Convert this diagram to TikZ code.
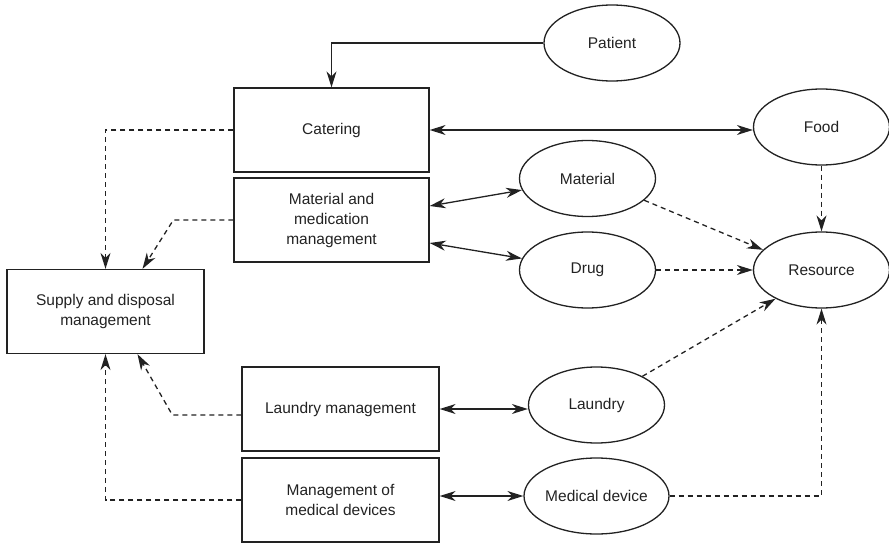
\documentclass[tikz,border=0pt]{standalone}
\usepackage{fontspec}
\setmainfont{Liberation Sans}
\usetikzlibrary{arrows.meta,shapes.geometric,calc}
\definecolor{ink}{HTML}{222222}
\tikzset{
  head/.style={Stealth[length=16pt,width=10pt,inset=5pt]},
  box/.style={draw=ink,line width=1.3pt,rectangle,minimum width=195pt,minimum height=84pt,
    align=center,inner sep=0pt,font=\fontsize{15.5}{20}\selectfont,text=ink},
  oval/.style={draw=ink,line width=1.3pt,ellipse,minimum width=136pt,minimum height=76pt,
    inner sep=0pt,font=\fontsize{15.5}{20}\selectfont,text=ink},
  link/.style={draw=ink,line width=1.3pt,-{Stealth[length=16pt,width=10pt,inset=5pt]}},
  dlink/.style={draw=ink,line width=1.3pt,
    {Stealth[length=16pt,width=10pt,inset=5pt]}-{Stealth[length=16pt,width=10pt,inset=5pt]}},
  flow/.style={draw=ink,line width=1.3pt,dash pattern=on 5pt off 4pt,
    -{Stealth[length=16pt,width=10pt,inset=5pt]}}
}
\begin{document}
\begin{tikzpicture}[x=1pt,y=-1pt]
\useasboundingbox (0,0) rectangle (889,543);

% process boxes
\node[box] (cat) at (331.5,130) {Catering};
\node[box] (mm) at (331.5,220) {Material and\\medication\\management};
\node[box,minimum width=197pt] (sup) at (105.5,311.5) {Supply and disposal\\management};
\node[box,minimum width=197pt] (lm) at (340.5,409) {Laundry management};
\node[box,minimum width=197pt] (md) at (340.5,500) {Management of\\medical devices};

% objects
\node[oval] (pat) at (612,43) {Patient};
\node[oval] (food) at (821.5,127) {Food};
\node[oval] (mat) at (587.5,178.5) {Material};
\node[oval] (drug) at (587.5,270) {Drug};
\node[oval] (res) at (821.5,270) {Resource};
\node[oval] (lau) at (596.5,405) {Laundry};
\node[oval] (med) at (596.5,496) {Medical device};

% solid links
\draw[link] (pat.west) -| (cat.north);
\draw[dlink] (cat.east) -- (cat.east -| food.west);
\draw[dlink] ($(mm.east)+(0,-14)$) -- (mat.190);
\draw[dlink] ($(mm.east)+(0,23)$) -- (drug.170);
\draw[dlink] (lm.east) -- (lm.east -| lau.west);
\draw[dlink] ($(md.east)+(0,-4)$) -- (med.west);

% dashed flows to supply and disposal
\draw[flow] (cat.west) -| (sup.north);
\draw[flow] (mm.west) -- ++(-60,0) -- ($(sup.north)+(37,0)$);
\draw[flow] ($(lm.west)+(0,6)$) -- ++(-69,0) -- ($(sup.south)+(32,0)$);
\draw[flow] (md.west) -| (sup.south);

% dashed flows to resource
\draw[flow] (food.south) -- (res.north);
\draw[flow] (mat.339) -- (res.161);
\draw[flow] (drug.east) -- (res.west);
\draw[flow] (lau.32) -- (res.212);
\draw[flow] (med.east) -| (res.south);
\end{tikzpicture}
\end{document}
